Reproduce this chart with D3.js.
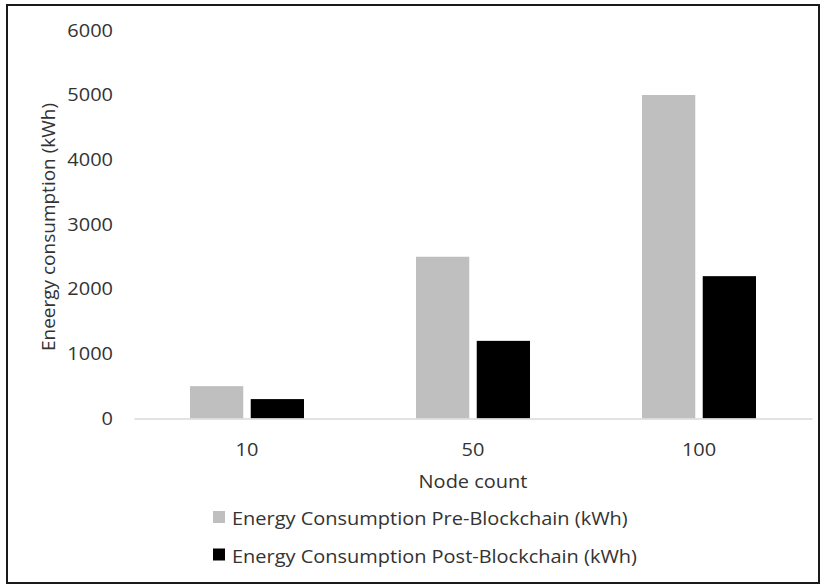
<!DOCTYPE html>
<html>
<head>
<meta charset="utf-8">
<script src="https://cdn.jsdelivr.net/npm/d3@7"></script>
<style>
  html, body { margin: 0; padding: 0; background: #fff; }
  svg { display: block; }
  text { font-family: "Open Sans", "Noto Sans", sans-serif; fill: #333; }
</style>
</head>
<body>
<svg id="chart" width="822" height="587"></svg>
<script>
// Energy use by node count, before and after blockchain adoption
const nodeCounts = ["10", "50", "100"];
const preBlockchain = [500, 2500, 5000];
const postBlockchain = [300, 1200, 2200];
const seriesNames = [
  "Energy Consumption Pre-Blockchain (kWh)",
  "Energy Consumption Post-Blockchain (kWh)"
];
const seriesColors = ["#bfbfbf", "#000000"];
const yTicks = [0, 1000, 2000, 3000, 4000, 5000, 6000];

const plot = { left: 134, right: 812, top: 30.3, bottom: 418.5 };
const fontSize = 18;     // horizontal labels
const stretchX = 1.11;   // labels are set slightly wide
const titleSize = 19;    // rotated value-axis title

const svg = d3.select("#chart");

// outer frame
svg.append("rect")
  .attr("x", 7).attr("y", 5)
  .attr("width", 812).attr("height", 578)
  .attr("fill", "#fff")
  .attr("stroke", "#1a1a1a")
  .attr("stroke-width", 2);

const x = d3.scaleBand()
  .domain(nodeCounts)
  .range([plot.left, plot.right]);

const barW = 50, gap = 14;
const x1 = d3.scaleBand()
  .domain(d3.range(seriesNames.length))
  .range([x.bandwidth() / 2 - barW - gap / 2, x.bandwidth() / 2 + barW + gap / 2])
  .paddingInner(gap / (2 * barW + gap));

const y = d3.scaleLinear()
  .domain([0, 6000])
  .range([plot.bottom, plot.top]);

// value labels (no axis line, no gridlines)
const yAxis = d3.axisLeft(y).tickValues(yTicks).tickSize(0).tickPadding(0).tickFormat(d3.format("d"));
const gy = svg.append("g")
  .attr("transform", `translate(113,0)`)
  .call(yAxis);
gy.select(".domain").remove();
gy.selectAll("text")
  .attr("x", 0)
  .attr("transform", `scale(${stretchX},1)`)
  .attr("font-size", fontSize)
  .attr("font-family", "Open Sans, Noto Sans, sans-serif")
  .attr("fill", "#333");

// bars
const rows = nodeCounts.map((c, i) => ({ cat: c, vals: [preBlockchain[i], postBlockchain[i]] }));
const groups = svg.append("g").selectAll("g")
  .data(rows)
  .join("g")
  .attr("transform", d => `translate(${x(d.cat)},0)`);

groups.selectAll("rect")
  .data(d => d.vals.map((v, k) => ({ v, k })))
  .join("rect")
  .attr("x", d => x1(d.k))
  .attr("width", x1.bandwidth())
  .attr("y", d => y(d.v))
  .attr("height", d => y(0) - y(d.v))
  .attr("fill", d => seriesColors[d.k]);

// category axis
const xAxis = d3.axisBottom(x).tickSize(0).tickPadding(0);
const gx = svg.append("g")
  .attr("transform", `translate(0,${plot.bottom})`)
  .call(xAxis);
gx.select(".domain")
  .attr("stroke", "#d9d9d9")
  .attr("stroke-width", 1.5);
gx.selectAll("text")
  .attr("dy", null)
  .attr("y", 0)
  .attr("transform", `translate(0,37) scale(${stretchX},1)`)
  .attr("font-size", fontSize)
  .attr("font-family", "Open Sans, Noto Sans, sans-serif")
  .attr("fill", "#333");

// axis titles
svg.append("text")
  .attr("transform", `translate(${(plot.left + plot.right) / 2},488) scale(${stretchX},1)`)
  .attr("text-anchor", "middle")
  .attr("font-size", fontSize)
  .text("Node count");

svg.append("text")
  .attr("transform", `translate(55,227) rotate(-90)`)
  .attr("text-anchor", "middle")
  .attr("font-size", titleSize)
  .text("Eneergy consumption (kWh)");

// legend
const legend = svg.append("g").selectAll("g")
  .data(seriesNames)
  .join("g")
  .attr("transform", (d, i) => `translate(213,${511 + i * 37.5})`);
legend.append("rect")
  .attr("width", 12).attr("height", 12)
  .attr("fill", (d, i) => seriesColors[i]);
legend.append("text")
  .attr("transform", `translate(19,14) scale(${stretchX},1)`)
  .attr("font-size", fontSize)
  .text(d => d);
</script>
</body>
</html>
